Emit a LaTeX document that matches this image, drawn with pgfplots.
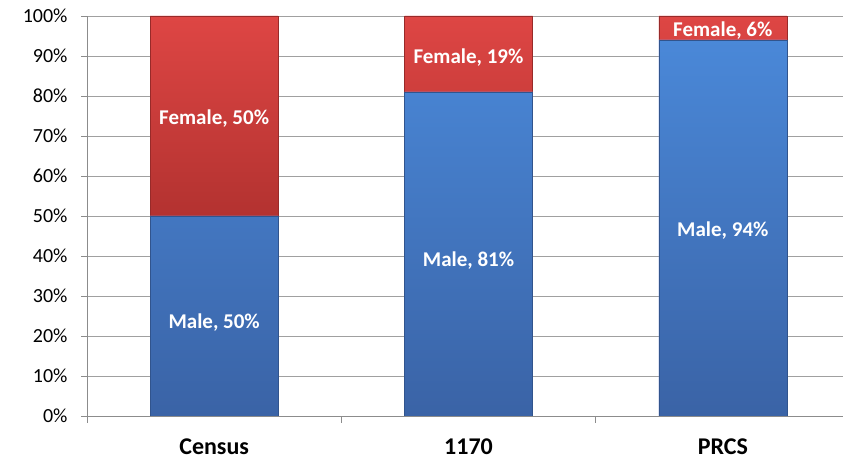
\documentclass[border=0pt]{standalone}
\usepackage{pgfplots}
\pgfplotsset{compat=1.18}
\usepackage{fontspec}
\setmainfont{Carlito}
\definecolor{maleTop}{HTML}{4A88D8}
\definecolor{maleBot}{HTML}{3A63A6}
\definecolor{femTop}{HTML}{DE4644}
\definecolor{femBot}{HTML}{B33230}
\definecolor{gridgray}{HTML}{A0A0A0}
\definecolor{axisgray}{HTML}{8C8C8C}
\pgfplotsset{
  base/.style={
    scale only axis,
    width=763pt, height=400pt,
    xmin=-0.5, xmax=2.5,
    ymin=0, ymax=100,
    enlargelimits=false,
    /pgf/number format/assume math mode=true,
  }
}
\begin{document}
\begin{tikzpicture}
\begin{axis}[
  base,
  ybar stacked,
  bar width=128pt,
  xtick={0,1,2},
  xticklabels={Census,1170,PRCS},
  xticklabel style={font=\fontsize{24}{28}\selectfont\bfseries, yshift=-13pt},
  major x tick style={draw=none},
  minor xtick={-0.5,0.5,1.5,2.5},
  minor x tick style={draw=axisgray, line width=0.8pt},
  minor tick length=7pt,
  major tick length=6pt,
  ytick={0,10,...,100},
  yticklabel={\pgfmathprintnumber{\tick}\%},
  yticklabel style={font=\fontsize{20}{24}\selectfont, xshift=-10pt},
  y tick style={draw=axisgray, line width=0.8pt},
  ymajorgrids,
  grid style={draw=gridgray, line width=0.8pt},
  axis x line*=bottom,
  axis y line*=left,
  axis line style={draw=axisgray, line width=0.8pt, -},
  tick align=outside,
]
\addplot+[ybar, draw=maleBot!85!black, line width=0.4pt, top color=maleTop, bottom color=maleBot]
  coordinates {(0,50) (1,81) (2,94)};
\addplot+[ybar, draw=femBot!85!black, line width=0.4pt, top color=femTop, bottom color=femBot]
  coordinates {(0,50) (1,19) (2,6)};
\end{axis}
\begin{axis}[
  base,
  hide axis,
]
\addplot[draw=none, nodes near coords, point meta=explicit symbolic,
  every node near coord/.style={font=\fontsize{21}{25}\selectfont\bfseries, text=white, anchor=center}]
  coordinates {(0,23.25) [Male, 50\%] (1,38.9) [Male, 81\%] (2,46.4) [Male, 94\%]
               (0,74.4) [Female, 50\%] (1,89.5) [Female, 19\%] (2,96.25) [Female, 6\%]};
\end{axis}
\pgfresetboundingbox
\path[use as bounding box] (current axis.south west) ++(-87pt,-46pt) rectangle ++(843pt,462pt);
\end{tikzpicture}
\end{document}
